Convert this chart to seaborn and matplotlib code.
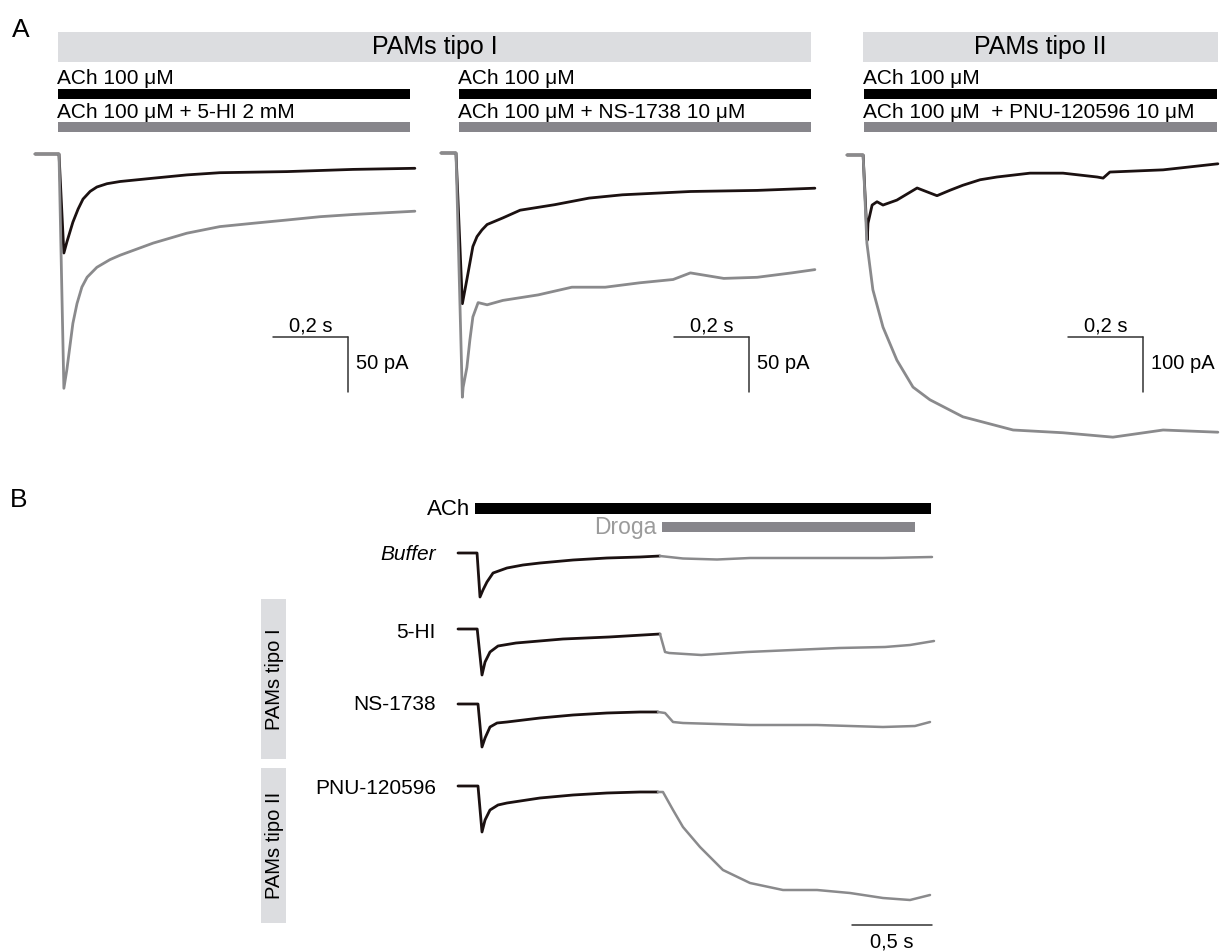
import numpy as np
import pandas as pd
import seaborn as sns
import matplotlib.pyplot as plt
from matplotlib.patches import Rectangle

sns.set_theme(style="white")
plt.rcParams['font.family'] = ['Liberation Sans', 'DejaVu Sans']
plt.rcParams['text.color'] = 'black'

# ---------------- data (time in s, current in pA) ----------------
# Panel A1: ACh vs ACh + 5-HI
a1_ach_t = [0, 0.064, 0.077, 0.085, 0.093, 0.101, 0.115, 0.128, 0.147, 0.165, 0.192, 0.227,
            0.315, 0.405, 0.493, 0.672, 0.848, 1.013]
a1_ach_i = [0, 0, -90, -80, -71, -62, -50, -41, -34, -30, -27, -25,
            -22, -19, -17, -16, -14, -13]
a1_drug_t = [0, 0.064, 0.077, 0.085, 0.093, 0.101, 0.112, 0.125, 0.139, 0.165, 0.2, 0.227,
             0.315, 0.405, 0.493, 0.581, 0.672, 0.760, 0.848, 1.013]
a1_drug_i = [0, 0, -213, -196, -175, -154, -136, -121, -112, -103, -96, -92,
             -81, -72, -66, -63, -60, -57, -55, -52]

# Panel A2: ACh vs ACh + NS-1738
a2_ach_t = [0, 0.04, 0.057, 0.069, 0.077, 0.085, 0.096, 0.109, 0.123, 0.165, 0.211,
            0.303, 0.395, 0.484, 0.665, 0.843, 0.997]
a2_ach_i = [0, 0, -137, -115, -100, -85, -76, -70, -65, -59, -52,
            -47, -41, -38, -35, -34, -32]
a2_drug_t = [0, 0.04, 0.057, 0.059, 0.069, 0.077, 0.085, 0.099, 0.123, 0.165, 0.259, 0.349,
             0.438, 0.530, 0.619, 0.665, 0.754, 0.843, 0.935, 0.997]
a2_drug_i = [0, 0, -222, -213, -195, -170, -149, -136, -138, -134, -129, -122,
             -122, -118, -115, -109, -114, -113, -109, -106]

# Panel A3: ACh vs ACh + PNU-120596
a3_ach_t = [0, 0.043, 0.054, 0.056, 0.067, 0.08, 0.096, 0.133, 0.187, 0.221, 0.24, 0.275,
            0.309, 0.355, 0.4, 0.488, 0.576, 0.667, 0.683, 0.701, 0.843, 0.989]
a3_ach_i = [0, 0, -155, -124, -91, -85, -91, -82, -60, -69, -74, -64,
            -55, -45, -40, -33, -33, -40, -42, -31, -27, -16]
a3_drug_t = [0, 0.043, 0.053, 0.069, 0.096, 0.133, 0.176, 0.221, 0.309, 0.443, 0.576, 0.709, 0.843, 0.989]
a3_drug_i = [0, 0, -160, -245, -313, -373, -422, -445, -476, -500, -505, -513, -500, -504]

# Panel B: ACh alone (black) then ACh + drug (gray), arbitrary current units
b_rows = ["Buffer", "5-HI", "NS-1738", "PNU-120596"]
b_ach_t = {
    "Buffer":     [0, 0.119, 0.1375, 0.156, 0.181, 0.219, 0.306, 0.406, 0.5125, 0.719, 0.931, 1.1375, 1.2625],
    "5-HI":       [0, 0.12, 0.15, 0.169, 0.2, 0.25, 0.3625, 0.656, 0.944, 1.2625],
    "NS-1738":    [0, 0.125, 0.15, 0.169, 0.2, 0.244, 0.306, 0.5125, 0.719, 0.931, 1.1375, 1.25],
    "PNU-120596": [0, 0.125, 0.15, 0.169, 0.2, 0.25, 0.306, 0.5125, 0.719, 0.931, 1.1375, 1.25],
}
b_ach_i = {
    "Buffer":     [0, 0, -88, -74, -58, -40, -30, -24, -20, -14, -10, -8, -6],
    "5-HI":       [0, 0, -92, -66, -46, -34, -28, -20, -16, -10],
    "NS-1738":    [0, 0, -86, -68, -46, -38, -36, -28, -22, -18, -16, -16],
    "PNU-120596": [0, 0, -92, -68, -48, -38, -34, -24, -18, -14, -12, -12],
}
b_drug_t = {
    "Buffer":     [1.2625, 1.406, 1.619, 1.825, 2.244, 2.656, 2.9625],
    "5-HI":       [1.2625, 1.294, 1.32, 1.52, 1.806, 2.094, 2.381, 2.669, 2.825, 2.975],
    "NS-1738":    [1.25, 1.294, 1.344, 1.406, 1.825, 2.244, 2.656, 2.856, 2.95],
    "PNU-120596": [1.25, 1.281, 1.344, 1.406, 1.5125, 1.656, 1.825, 2.031, 2.244, 2.45, 2.656, 2.825, 2.95],
}
b_drug_i = {
    "Buffer":     [-6, -11, -13, -10, -10, -10, -8],
    "5-HI":       [-10, -46, -48, -52, -46, -42, -38, -36, -32, -24],
    "NS-1738":    [-16, -18, -36, -38, -42, -42, -46, -44, -36],
    "PNU-120596": [-12, -12, -48, -82, -122, -168, -194, -208, -208, -214, -224, -228, -218],
}

header_labels = ["PAMs tipo I", "PAMs tipo II"]
a_line1 = ["ACh 100 \u03bcM", "ACh 100 \u03bcM", "ACh 100 \u03bcM"]
a_line2 = ["ACh 100 \u03bcM + 5-HI 2 mM", "ACh 100 \u03bcM + NS-1738 10 \u03bcM",
           "ACh 100 \u03bcM  + PNU-120596 10 \u03bcM"]
a_scale_pa = [50, 50, 100]

# ---------------- styling ----------------
C_ACH = "#1b1111"
C_DRUG = "#8a8a8c"
C_BAR_DRUG = "#87868b"
C_BOX = "#dcdde0"
C_SCALE = "#333333"

W, H = 1220, 951
fig = plt.figure(figsize=(W / 100, H / 100), dpi=100)
deco = fig.add_axes([0, 0, 1, 1])
deco.set_xlim(0, W)
deco.set_ylim(H, 0)
deco.axis('off')
deco.patch.set_alpha(0)


def overlay(x0, base, pxs, pxu):
    ax = fig.add_axes([0, 0, 1, 1])
    ax.axis('off')
    ax.patch.set_alpha(0)
    return ax, ((-x0 / pxs, (W - x0) / pxs), ((base - H) / pxu, base / pxu))


def draw(ax, t1, i1, t2, i2, lw1=2.0, lw2=2.0):
    sns.lineplot(x=t1, y=i1, ax=ax, color=C_ACH, lw=lw1, estimator=None, sort=False)
    sns.lineplot(x=t2, y=i2, ax=ax, color=C_DRUG, lw=lw2, estimator=None, sort=False)


# ---------------- Panel A ----------------
deco.text(12, 37, "A", fontsize=19, ha='left', va='baseline')
deco.add_patch(Rectangle((58, 32), 811 - 58, 30, color=C_BOX, lw=0))
deco.add_patch(Rectangle((863, 32), 1218 - 863, 30, color=C_BOX, lw=0))
deco.text((58 + 811) / 2, 54, header_labels[0], fontsize=18, ha='center', va='baseline')
deco.text((863 + 1218) / 2, 54, header_labels[1], fontsize=18, ha='center', va='baseline')

bar_x = [(58, 410), (459, 811), (864, 1217)]
for (xa, xb), l1, l2 in zip(bar_x, a_line1, a_line2):
    deco.text(xa - 1, 84, l1, fontsize=15, ha='left', va='baseline')
    deco.add_patch(Rectangle((xa, 89), xb - xa, 10, color="black", lw=0))
    deco.text(xa - 1, 118, l2, fontsize=15, ha='left', va='baseline')
    deco.add_patch(Rectangle((xa, 122), xb - xa, 10, color=C_BAR_DRUG, lw=0))

panelsA = [
    (35, 154, 375, 1.1, a1_ach_t, a1_ach_i, a1_drug_t, a1_drug_i, 0.635),
    (441, 153, 375, 1.1, a2_ach_t, a2_ach_i, a2_drug_t, a2_drug_i, 0.621),
    (847, 155, 375, 0.55, a3_ach_t, a3_ach_i, a3_drug_t, a3_drug_i, 0.589),
]
for k, (x0, base, pxs, pxu, t1, i1, t2, i2, sb_t) in enumerate(panelsA):
    ax, (xl, yl) = overlay(x0, base, pxs, pxu)
    draw(ax, t1, i1, t2, i2)
    # scale bars: 0.2 s and N pA, drawn in data units
    sb_y = -(337 - base) / pxu
    ax.plot([sb_t, sb_t + 0.2], [sb_y, sb_y], color=C_SCALE, lw=1.1)
    ax.plot([sb_t + 0.2, sb_t + 0.2], [sb_y, sb_y - a_scale_pa[k]], color=C_SCALE, lw=1.1)
    ax.set_xlim(*xl)
    ax.set_ylim(*yl)
    xs = x0 + (sb_t + 0.1) * pxs
    xe = x0 + (sb_t + 0.2) * pxs
    deco.text(xs, 332, "0,2 s", fontsize=14.5, ha='center', va='baseline')
    deco.text(xe + 8, 369, f"{a_scale_pa[k]} pA", fontsize=14.5, ha='left', va='baseline')

# ---------------- Panel B ----------------
deco.text(10, 507, "B", fontsize=19, ha='left', va='baseline')
deco.text(470, 515, "ACh", fontsize=16, ha='right', va='baseline')
deco.add_patch(Rectangle((475, 503), 931 - 475, 11, color="black", lw=0))
deco.text(657, 534, "Droga", fontsize=16.5, ha='right', va='baseline', color="#9b9b9b")
deco.add_patch(Rectangle((662, 522), 915 - 662, 10, color=C_BAR_DRUG, lw=0))

deco.add_patch(Rectangle((261, 599), 25, 160, color=C_BOX, lw=0))
deco.add_patch(Rectangle((261, 768), 25, 155, color=C_BOX, lw=0))
deco.text(274, 679, header_labels[0], fontsize=14.5, rotation=90, ha='center', va='center')
deco.text(274, 845, header_labels[1], fontsize=14.5, rotation=90, ha='center', va='center')

b_base = {"Buffer": 553, "5-HI": 629, "NS-1738": 704, "PNU-120596": 786}
b_label_y = {"Buffer": 555, "5-HI": 633, "NS-1738": 705, "PNU-120596": 788}
B_X0, B_PXS, B_PXU = 458, 160, 0.5
for name in b_rows:
    ax, (xl, yl) = overlay(B_X0, b_base[name], B_PXS, B_PXU)
    draw(ax, b_ach_t[name], b_ach_i[name], b_drug_t[name], b_drug_i[name], lw1=2.0, lw2=1.8)
    if name == "PNU-120596":
        sb_y = -(925 - b_base[name]) / B_PXU
        ax.plot([2.4625, 2.9625], [sb_y, sb_y], color=C_SCALE, lw=1.1)
    ax.set_xlim(*xl)
    ax.set_ylim(*yl)
    deco.text(436, b_label_y[name], name, fontsize=15, ha='right', va='center',
              style='italic' if name == "Buffer" else 'normal')

deco.text(892, 947, "0,5 s", fontsize=14.5, ha='center', va='baseline')

fig.savefig("out.png", dpi=100)
